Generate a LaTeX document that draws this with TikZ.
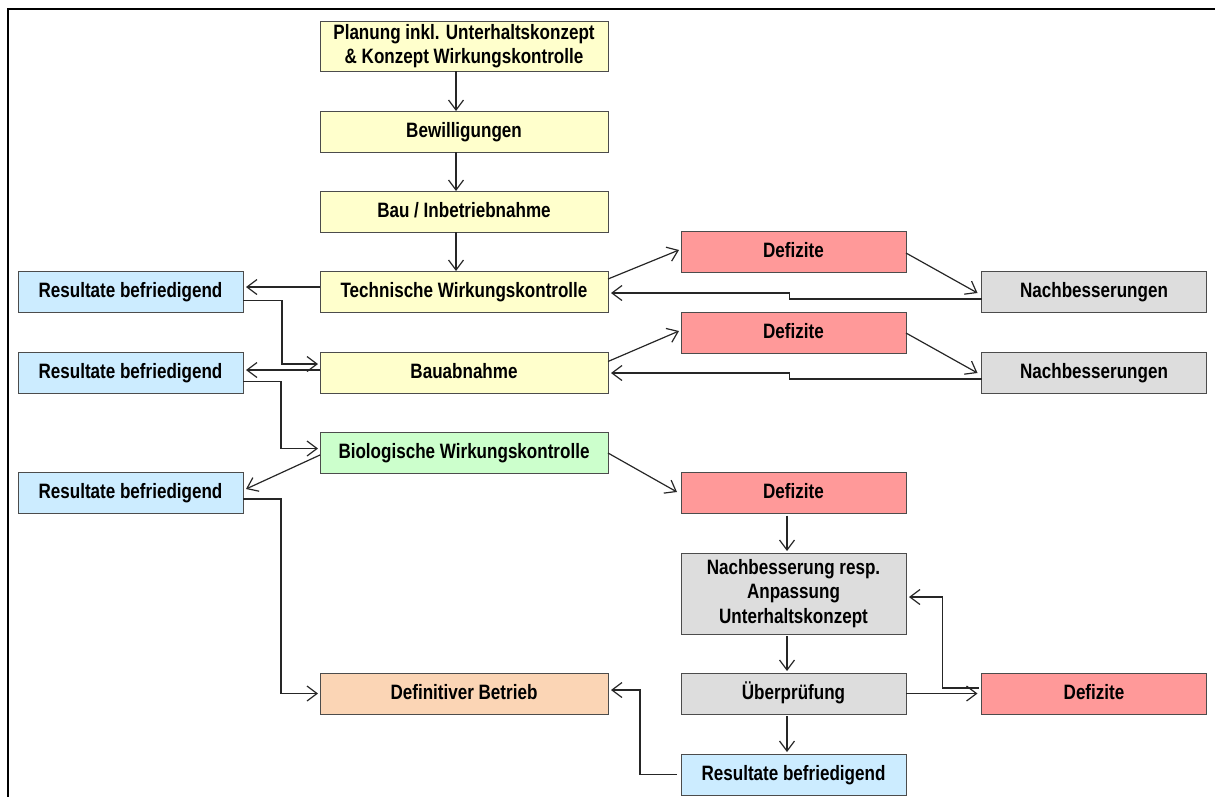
\documentclass[tikz,border=0pt]{standalone}
\usepackage{fontspec}
\setmainfont{Liberation Sans}[FakeStretch=0.82]
\usetikzlibrary{calc,arrows.meta}
\definecolor{cyel}{HTML}{FFFFCC}
\definecolor{cblu}{HTML}{CCECFF}
\definecolor{cred}{HTML}{FF9999}
\definecolor{cgry}{HTML}{DDDDDD}
\definecolor{cgrn}{HTML}{CCFFCC}
\definecolor{corg}{HTML}{FBD5B5}
\tikzset{
  box/.style={draw=black!70, line width=1pt, inner sep=0pt, outer sep=0pt, align=center,
    font=\bfseries\fontsize{20.8}{24.5}\selectfont, text=black, minimum height=41pt},
  sl/.style={text height=15pt, text depth=4pt},
  wbox/.style={box, minimum width=288pt},
  nbox/.style={box, minimum width=225pt},
  arr/.style={line width=1.2pt, black!85, -{Straight Barb[length=10pt,width=15pt,line width=1.2pt]}},
  ln/.style={line width=1.2pt, black!85}
}
\begin{document}
\begin{tikzpicture}[x=1pt,y=-1pt]
\useasboundingbox (0,0) rectangle (1215,796);
\draw[line width=2.6pt] (8,797) -- (8,9) -- (1215,9);

\node[wbox, fill=cyel, minimum height=50pt] (plan) at (464,46) {Planung inkl. Unterhaltskonzept\\\& Konzept Wirkungskontrolle};
\node[wbox, sl, fill=cyel] (bew) at (464,131.5) {Bewilligungen};
\node[wbox, sl, fill=cyel] (bau) at (464,211.5) {Bau / Inbetriebnahme};
\node[wbox, sl, fill=cyel] (tech) at (464,291.5) {Technische Wirkungskontrolle};
\node[wbox, sl, fill=cyel] (bauab) at (464,372.5) {Bauabnahme};
\node[wbox, sl, fill=cgrn] (bio) at (464,452.5) {Biologische Wirkungskontrolle};
\node[wbox, sl, fill=corg] (defb) at (464,693.5) {Definitiver Betrieb};

\node[nbox, sl, fill=cblu] (res1) at (130.5,291.5) {Resultate befriedigend};
\node[nbox, sl, fill=cblu] (res2) at (130.5,372.5) {Resultate befriedigend};
\node[nbox, sl, fill=cblu] (res3) at (130.5,493) {Resultate befriedigend};

\node[nbox, sl, fill=cred] (def1) at (793.5,252) {Defizite};
\node[nbox, sl, fill=cgry] (nb1) at (1094,292) {Nachbesserungen};
\node[nbox, sl, fill=cred] (def2) at (793.5,332.5) {Defizite};
\node[nbox, sl, fill=cgry] (nb2) at (1094,373) {Nachbesserungen};
\node[nbox, sl, fill=cred] (def3) at (793.5,493) {Defizite};
\node[nbox, fill=cgry, minimum height=81pt] (nbr) at (793.5,593.5) {Nachbesserung resp.\\Anpassung\\Unterhaltskonzept};
\node[nbox, sl, fill=cgry] (ueb) at (793.5,693.5) {Überprüfung};
\node[nbox, sl, fill=cred] (def4) at (1094,693.5) {Defizite};
\node[nbox, sl, fill=cblu] (res4) at (793.5,774.5) {Resultate befriedigend};

% main column
\draw[arr] ($(plan.south)+(-8,0)$) -- ($(bew.north)+(-8,0)$);
\draw[arr] ($(bew.south)+(-8,0)$) -- ($(bau.north)+(-8,0)$);
\draw[arr] ($(bau.south)+(-8,0)$) -- ($(tech.north)+(-8,0)$);

% left side
\draw[arr] ($(tech.west)+(0,-4.5)$) -- ($(res1.east)+(3,-4.5)$);
\draw[arr] ($(res1.east)+(0,9)$) -- ++(39,0) |- ($(bauab.west)+(-2,-8.5)$);
\draw[arr] ($(bauab.west)+(0,-2.5)$) -- ($(res2.east)+(3,-2.5)$);
\draw[arr] ($(res2.east)+(0,9)$) -- ++(38,0) |- ($(bio.west)+(-2,-4)$);
\draw[arr] ($(bio.west)+(0,2.5)$) -- ($(res3.east)+(3,-4)$);
\draw[arr] ($(res3.east)+(0,6)$) -- ++(38,0) |- ($(defb.west)+(-2,0)$);

% right side, row 1
\draw[arr] ($(tech.east)+(0,-12.5)$) -- ($(def1.west)+(-2,-2)$);
\draw[arr] ($(def1.east)+(0,1)$) -- ($(nb1.west)+(-4,1)$);
\draw[arr] ($(nb1.west)+(0,7)$) -- ++(-192,0) -- ++(0,-6) -- ($(tech.east)+(3,1.5)$);
% row 2
\draw[arr] ($(bauab.east)+(0,-11)$) -- ($(def2.west)+(-2,-1.5)$);
\draw[arr] ($(def2.east)+(0,0.5)$) -- ($(nb2.west)+(-4,0)$);
\draw[arr] ($(nb2.west)+(0,6)$) -- ++(-192,0) -- ++(0,-6) -- ($(bauab.east)+(3,0.5)$);

% biological branch
\draw[arr] ($(bio.east)+(0,0.5)$) -- ($(def3.west)+(-4,-1)$);
\draw[arr] ($(def3.south)+(-6.5,2)$) -- ($(nbr.north)+(-6.5,-2)$);
\draw[arr] ($(nbr.south)+(-6.5,2)$) -- ($(ueb.north)+(-6.5,-2)$);
\draw[arr] (ueb.east) -- ($(def4.west)+(-4,0)$);
\draw[arr] ($(def4.west)+(-3,-5.5)$) -- ++(-36,0) |- ($(nbr.east)+(3,3.5)$);
\draw[arr] ($(ueb.south)+(-6.5,2)$) -- ($(res4.north)+(-6.5,-2)$);
\draw[arr] ($(res4.west)+(-4,0)$) -- ++(-37,0) |- ($(defb.east)+(3,-3.5)$);
\end{tikzpicture}
\end{document}
